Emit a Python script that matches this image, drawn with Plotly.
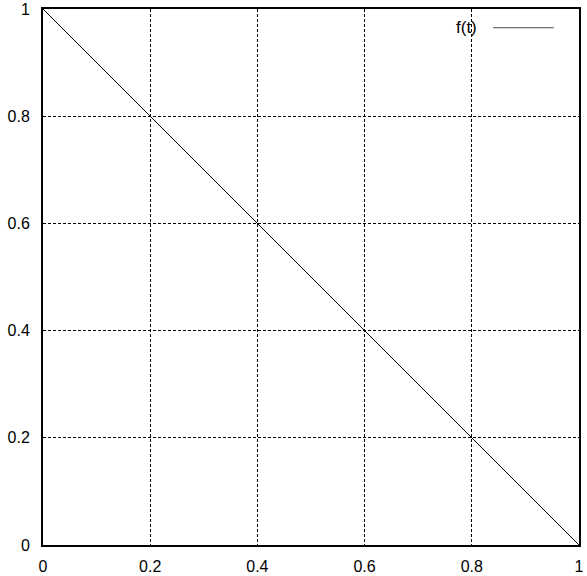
import plotly.graph_objects as go

t_values = [0.0, 1.0]
f_values = [1.0, 0.0]
tick_vals = [0, 0.2, 0.4, 0.6, 0.8, 1]
tick_text = ["0", "0.2", "0.4", "0.6", "0.8", "1"]

fig = go.Figure()
fig.add_trace(go.Scatter(x=t_values, y=f_values, mode="lines",
                         line=dict(color="black", width=1), name="f(t)",
                         showlegend=False, cliponaxis=False))

axis_common = dict(range=[0, 1], tickvals=tick_vals, ticktext=tick_text,
                   showgrid=True, gridcolor="black", gridwidth=1, griddash="3px,2px",
                   showline=True, linecolor="black", linewidth=2, mirror=True,
                   zeroline=False, ticks="", automargin=False,
                   tickfont=dict(family="Liberation Sans", size=16, color="black"))

fig.update_xaxes(**axis_common, ticklabelstandoff=6)
fig.update_yaxes(**axis_common, ticklabelstandoff=8)

fig.add_annotation(x=0.814, y=0.965, xref="paper", yref="paper", text="f(t)",
                   showarrow=False, xanchor="right", yanchor="middle",
                   font=dict(family="Liberation Sans", size=17, color="black"))
fig.add_shape(type="line", xref="paper", yref="paper", x0=0.84, x1=0.953, y0=0.965, y1=0.965,
              line=dict(color="#444444", width=1))

fig.update_layout(width=587, height=576, margin=dict(l=43, r=8, t=9, b=31, autoexpand=False),
                  plot_bgcolor="white", paper_bgcolor="white")

fig.write_html("out.html", config={"displayModeBar": False},
               post_script="document.body.style.margin='0';document.body.style.overflow='hidden';")
